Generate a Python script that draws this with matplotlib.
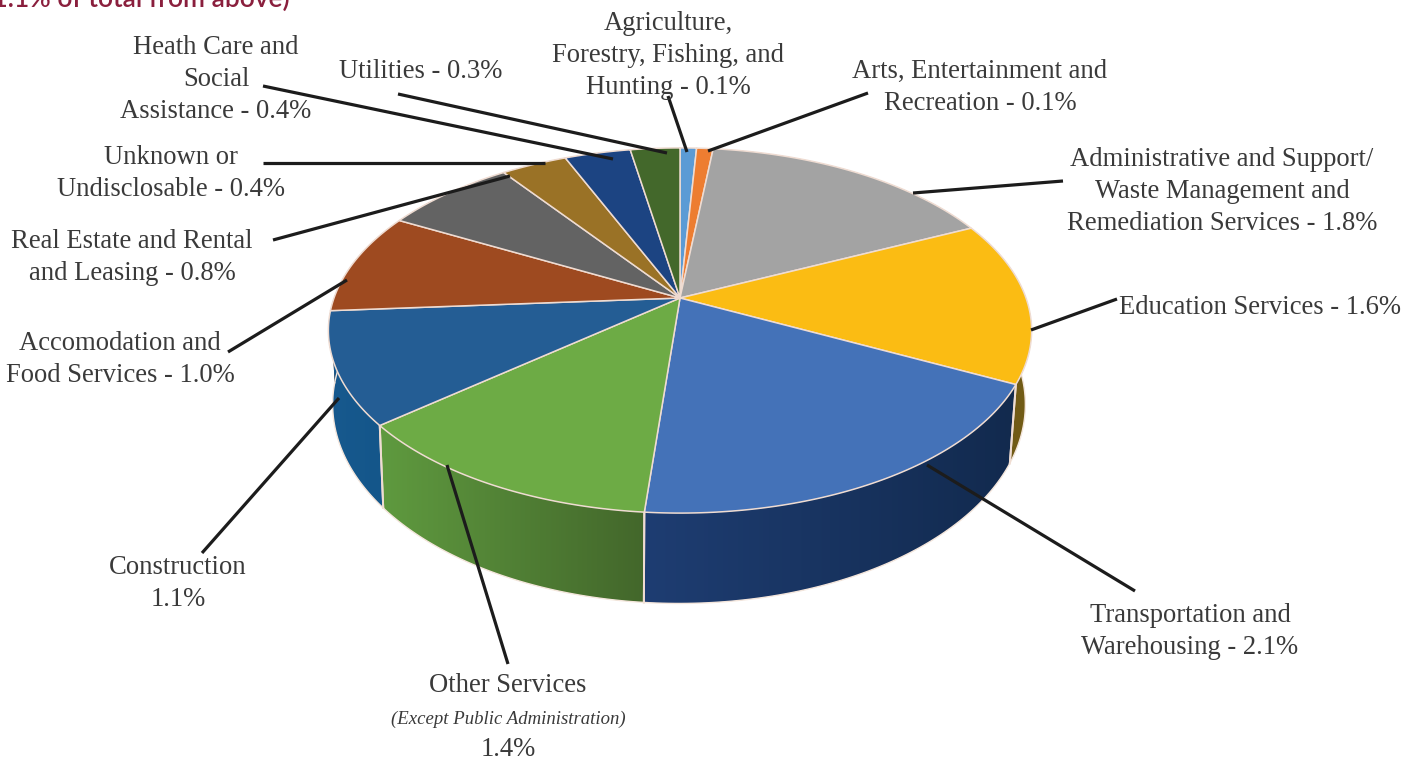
import numpy as np
import matplotlib
matplotlib.use("Agg")
import matplotlib.pyplot as plt
from matplotlib.colors import LinearSegmentedColormap
from matplotlib.patches import Polygon

# Sector shares, clockwise from the top of the pie
sectors = ["Agriculture", "Arts", "Administrative", "Education", "Transportation", "Other",
           "Construction", "Accomodation", "Real Estate", "Unknown", "Health Care", "Utilities"]
values = [0.1, 0.1, 1.8, 1.6, 2.1, 1.4, 1.1, 1.0, 0.8, 0.4, 0.4, 0.3]
top_colors = ["#5b9bd5", "#ed7d31", "#a3a3a3", "#fbbc13", "#4472b8", "#6dab45",
              "#245d94", "#9e4a20", "#636363", "#9a7226", "#1c4482", "#43682b"]
side_left = ["#3c6c98", "#a85822", "#737373", "#6b5616", "#1e3d72", "#5f9a3f",
             "#17598e", "#6e3310", "#454545", "#6b5016", "#132f5a", "#2f491e"]
side_right = ["#3c6c98", "#a85822", "#737373", "#735c16", "#122a4e", "#43672b",
              "#14568a", "#6e3310", "#454545", "#6b5016", "#132f5a", "#2f491e"]

# Pie geometry in canvas pixels
apex_x, apex_y = 680, 298
a, b, k = 346, 176.8, 0.178     # perspective of the top face
base_x, base_y, base_sx, base_sy = 679, 369, 0.985, 1.09   # bottom rim of the extrusion

text_color = "#3a3a3a"
serif = "Liberation Serif"
fs = 19.2


def rim(theta):
    # theta in degrees, clockwise from the back of the pie
    t = np.radians(theta)
    w = 1 + k * np.cos(t)
    return apex_x + a * np.sin(t) / w, apex_y - b * np.cos(t) / w


def base_rim(theta):
    x, y = rim(theta)
    return base_x + base_sx * (x - apex_x), base_y + base_sy * (y - apex_y)


fig = plt.figure(figsize=(14.16, 7.6), dpi=100)
ax = fig.add_axes([0, 0, 1, 1])
ax.set_xlim(0, 1416)
ax.set_ylim(760, 0)
ax.axis("off")

edges = np.concatenate([[0], np.cumsum(values)]) / sum(values) * 360
rim_line = "#efdcd2"

# Side walls, back slices first so the front ones sit on top
order = np.argsort(-np.cos(np.radians((edges[:-1] + edges[1:]) / 2)))
for i in order:
    th = np.linspace(edges[i], edges[i + 1], 80)
    tx, ty = rim(th)
    bx, by = base_rim(th)
    pts = np.column_stack([np.r_[tx, bx[::-1]], np.r_[ty, by[::-1]]])
    cmap = LinearSegmentedColormap.from_list("wall", [side_left[i], side_right[i]])
    poly = Polygon(pts, closed=True, fc="none", ec="none", transform=ax.transData)
    ax.add_patch(poly)
    im = ax.imshow(np.linspace(0, 1, 128).reshape(1, -1), cmap=cmap, aspect="auto",
                   extent=[pts[:, 0].min(), pts[:, 0].max(), pts[:, 1].max(), pts[:, 1].min()],
                   zorder=2)
    im.set_clip_path(poly)
    # pale seams on the front of the drum, and the lower rim
    for j in (0, -1):
        if 100 < th[j] < 250:
            ax.plot([tx[j], bx[j]], [ty[j], by[j]], color=rim_line, lw=1.4, zorder=3)
    ax.plot(bx, by, color="#f4e6dc", lw=1.0, zorder=3)
ax.set_xlim(0, 1416)
ax.set_ylim(760, 0)

# Top face
for i in range(len(values)):
    th = np.linspace(edges[i], edges[i + 1], 80)
    tx, ty = rim(th)
    pts = np.column_stack([np.r_[apex_x, tx], np.r_[apex_y, ty]])
    ax.add_patch(Polygon(pts, closed=True, fc=top_colors[i], ec=rim_line, lw=1.1, zorder=4))

# Leader lines
leaders = [((668, 96), (687, 152)), ((868, 93), (708, 151)), ((398, 94), (667, 153)),
           ((263, 86), (613, 159)), ((263, 163), (545, 163)), ((273, 240), (510, 176)),
           ((228, 352), (347, 280)), ((202, 553), (339, 398)), ((508, 664), (447, 465)),
           ((1135, 591), (927, 465)), ((1117, 299), (1031, 330)), ((1063, 181), (913, 193))]
for (x0, y0), (x1, y1) in leaders:
    ax.plot([x0, x1], [y0, y1], color="#1c1c1c", lw=2.3, solid_capstyle="butt", zorder=5)


def pct(name):
    return f"{values[sectors.index(name)]:.1f}%"


labels = [
    (668, [(24, "Agriculture,"), (56, "Forestry, Fishing, and"), (88, f"Hunting - {pct('Agriculture')}")]),
    (980, [(71, "Arts, Entertainment and"), (103, f"Recreation - {pct('Arts')}")]),
    (1222, [(160, "Administrative and Support/"), (191, "Waste Management and"),
            (223, f"Remediation Services - {pct('Administrative')}")]),
    (1260, [(307, f"Education Services - {pct('Education')}")]),
    (1190, [(616, "Transportation and"), (648, f"Warehousing - {pct('Transportation')}")]),
    (508, [(685, "Other Services"), (749, pct("Other"))]),
    (178, [(568, "Construction"), (600, pct("Construction"))]),
    (120, [(343, "Accomodation and"), (375, f"Food Services - {pct('Accomodation')}")]),
    (132, [(242, "Real Estate and Rental"), (274, f"and Leasing - {pct('Real Estate')}")]),
    (171, [(157, "Unknown or"), (189, f"Undisclosable - {pct('Unknown')}")]),
    (216, [(47, "Heath Care and"), (79, "Social"), (111, f"Assistance - {pct('Health Care')}")]),
    (421, [(71, f"Utilities - {pct('Utilities')}")]),
]
for cx, rows in labels:
    for y, s in rows:
        ax.text(cx, y, s, ha="center", va="center", family=serif, fontsize=fs, color=text_color, zorder=6)

ax.text(508, 719, "(Except Public Administration)", ha="center", va="center", family=serif,
        style="italic", fontsize=13.5, color=text_color, zorder=6)

# Caption running off the top edge
ax.text(290, 7, "11.1% of total from above)", ha="right", va="baseline", family="Lato",
        fontweight="semibold", fontsize=19, color="#8a1f3d", zorder=6)

fig.savefig("out.png", dpi=100)
